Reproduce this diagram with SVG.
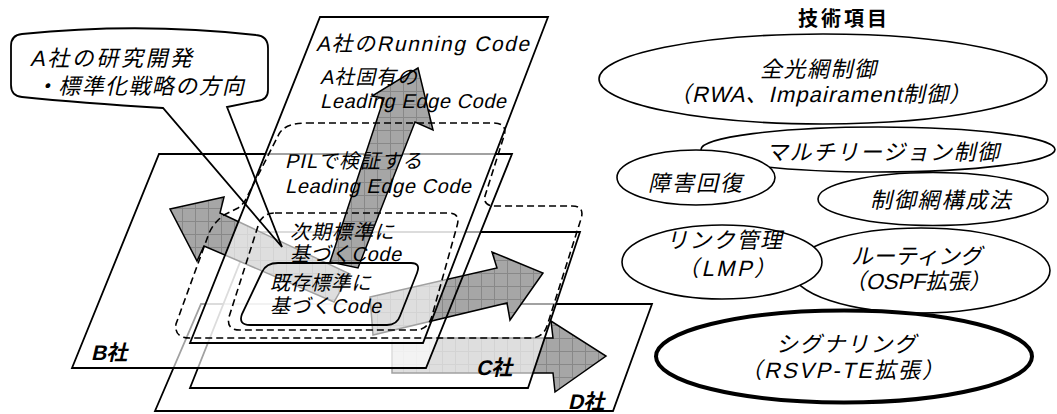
<svg xmlns="http://www.w3.org/2000/svg" width="1057" height="414" viewBox="0 0 1057 414">
<defs>
<pattern id="grid" width="13" height="13" patternUnits="userSpaceOnUse">
<rect width="13" height="13" fill="#a6a6a6"/>
<path d="M0 0.5H13M0.5 0V13" stroke="#888" stroke-width="1"/>
</pattern>
<style>
.pf{fill:#fff;fill-opacity:0.63;stroke:none}
.po{fill:none;stroke:#000;stroke-width:1.8;stroke-linejoin:miter}
.arr{fill:url(#grid);stroke:#000;stroke-width:1.5;stroke-linejoin:miter}
.dash{fill:none;stroke:#000;stroke-width:1.6;stroke-dasharray:7 4}
.t{font-family:'Liberation Sans','Noto Sans CJK JP',sans-serif;font-size:20px;fill:#000}
.t21{font-size:21px}
.t22{font-size:22px}
.lbl{font-family:'Liberation Sans','Noto Sans CJK JP',sans-serif;font-weight:bold;font-size:21px;fill:#000}
.ell{fill:#fff;stroke:#000;stroke-width:1.6}
</style>
</defs>
<rect width="1057" height="414" fill="#fff"/>

<g id="plane-D">
<polygon points="201,304 652,304 613,411 155,411" fill="#fff"/>
<polygon id="arrow-D" class="arr" points="392,338 553,338 551,321 606,356 555,392 553,373 392,373"/>
<polygon class="po" points="201,304 652,304 613,411 155,411"/>
</g>

<g id="plane-C">
<polygon class="pf" points="252,232 580,232 528,388 190,388"/>
<polygon class="po" points="252,232 580,232 528,388 190,388"/>
</g>

<g id="plane-B">
<polygon class="pf" points="159,154 512,154 426,368 72,368"/>
<polygon id="arrow-C" class="arr" points="370,297 497,268 492,252 543,273 510,320 507,303 373,335"/>
<polygon id="arrow-B" class="arr" points="170,209 224,197 220,213 350,274 334,302 204,246 197,261"/>
<polygon class="po" points="159,154 512,154 426,368 72,368"/>
</g>

<g id="plane-A">
<polygon class="pf" points="320,17 548,17 423,343 190,343"/>
<polygon class="po" points="320,17 548,17 423,343 190,343"/>
<polygon id="arrow-A" class="arr" points="418,68 433,130 415,122 358,268 330,262 384,98 372,96"/>
</g>

<g id="region-PIL">
<path class="dash" d="M307,123 L493,123 Q508,123 504,136 L485,196 Q483,206 495,206 L572,206 Q585,206 581,219 L547,326 Q543,338 530,338 L190,338 Q174,338 176,324 L208,236 Q212,224 224,215 L238,208 Q244,204 247,197 L279,134 Q285,123 307,123 Z"/>
</g>
<g id="region-next">
<path class="dash" d="M275,213 L448,213 Q461,213 457,226 L432,316 Q428,330 415,330 L240,330 Q226,330 229,317 L258,226 Q262,213 275,213 Z"/>
</g>
<g id="region-existing">
<path d="M278,263 L411,263 Q421,263 417,273 L400,316 Q397,325 387,325 L250,325 Q238,325 242,314 L262,272 Q266,263 278,263 Z" fill="none" stroke="#000" stroke-width="1.8"/>
</g>

<g id="callout">
<path d="M22,34 Q140,22 256,35 Q268,36 268,48 L268,90 Q268,100 257,101 L227,107 L282,247 L163,108 Q80,103 22,97 Q11,96 11,85 L11,46 Q11,35 22,34 Z" fill="none" stroke="#000" stroke-width="1.8" stroke-linejoin="miter"/>
<text class="t t22" transform="translate(30,66) skewX(-13)" textLength="162" lengthAdjust="spacing">A社の研究開発</text>
<text class="t t22" transform="translate(35,94) skewX(-13)" textLength="209" lengthAdjust="spacing">・標準化戦略の方向</text>
</g>

<g id="plane-texts">
<text class="t t21" transform="translate(316,51) skewX(-13)" textLength="213" lengthAdjust="spacing">A社のRunning Code</text>
<text class="t" transform="translate(320,84) skewX(-13)" textLength="97" lengthAdjust="spacing">A社固有の</text>
<text class="t" transform="translate(320,108) skewX(-13)" textLength="186" lengthAdjust="spacing">Leading Edge Code</text>
<text class="t" transform="translate(285,168) skewX(-13)" textLength="137" lengthAdjust="spacing">PILで検証する</text>
<text class="t" transform="translate(285,193) skewX(-13)" textLength="186" lengthAdjust="spacing">Leading Edge Code</text>
<text class="t" transform="translate(290,239) skewX(-13)" textLength="104" lengthAdjust="spacing">次期標準に</text>
<text class="t" transform="translate(290,261) skewX(-13)" textLength="111" lengthAdjust="spacing">基づくCode</text>
<text class="t" transform="translate(270,290) skewX(-13)" textLength="101" lengthAdjust="spacing">既存標準に</text>
<text class="t" transform="translate(270,313) skewX(-13)" textLength="111" lengthAdjust="spacing">基づくCode</text>
<text class="lbl" transform="translate(91,360) skewX(-13)">B社</text>
<text class="lbl" transform="translate(476,375) skewX(-13)">C社</text>
<text class="lbl" transform="translate(568,409) skewX(-13)">D社</text>
</g>

<g id="tech-title">
<text x="798" y="26" textLength="89" lengthAdjust="spacing" font-family="'Noto Sans CJK JP',sans-serif" font-weight="bold" font-size="20">技術項目</text>
</g>

<g id="node-allopt">
<ellipse class="ell" cx="823" cy="79" rx="224" ry="45"/>
<text class="t t22" transform="translate(760,77) skewX(-13)" textLength="116" lengthAdjust="spacing">全光網制御</text>
<text class="t t22" transform="translate(669,102) skewX(-13)" textLength="302" lengthAdjust="spacing">（RWA、Impairament制御）</text>
</g>
<g id="node-multiregion">
<ellipse class="ell" cx="878" cy="149.5" rx="177" ry="22.5"/>
<text class="t t22" transform="translate(766,160) skewX(-13)" textLength="233" lengthAdjust="spacing">マルチリージョン制御</text>
</g>
<g id="node-recovery">
<ellipse class="ell" cx="696" cy="177.5" rx="79" ry="27.5"/>
<text class="t t22" transform="translate(648,191) skewX(-13)" textLength="94" lengthAdjust="spacing">障害回復</text>
</g>
<g id="node-ctrlnet">
<ellipse class="ell" cx="933" cy="199" rx="115" ry="26.5"/>
<text class="t t22" transform="translate(870,208) skewX(-13)" textLength="141" lengthAdjust="spacing">制御網構成法</text>
</g>
<g id="node-routing">
<ellipse class="ell" cx="921" cy="270.5" rx="129" ry="42.5"/>
<text class="t t22" transform="translate(851,264) skewX(-13)" textLength="131" lengthAdjust="spacing">ルーティング</text>
<text class="t t22" transform="translate(844,289) skewX(-13)" textLength="147" lengthAdjust="spacing">（OSPF拡張）</text>
</g>
<g id="node-link">
<ellipse class="ell" cx="722" cy="262" rx="100" ry="37"/>
<text class="t t22" transform="translate(666,248) skewX(-13)" textLength="116" lengthAdjust="spacing">リンク管理</text>
<text class="t t22" transform="translate(677,276) skewX(-13)" textLength="99" lengthAdjust="spacing">（LMP）</text>
</g>
<g id="node-signaling">
<ellipse cx="844" cy="356.5" rx="188" ry="46" fill="#fff" stroke="#000" stroke-width="4"/>
<text class="t t22" transform="translate(776,352) skewX(-13)" textLength="140" lengthAdjust="spacing">シグナリング</text>
<text class="t t22" transform="translate(740,378) skewX(-13)" textLength="204" lengthAdjust="spacing">（RSVP-TE拡張）</text>
</g>
</svg>
